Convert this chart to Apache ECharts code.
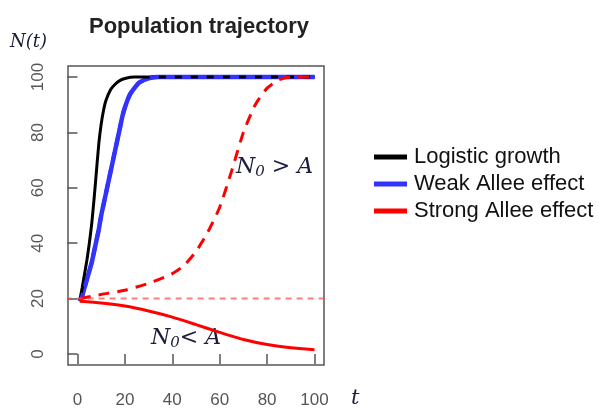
<!DOCTYPE html>
<html>
<head>
<meta charset="utf-8">
<script src="https://cdn.jsdelivr.net/npm/echarts@6/dist/echarts.min.js"></script>
<style>
  html, body { margin: 0; padding: 0; background: #fff; }
  #chart { width: 599px; height: 410px; }
</style>
</head>
<body>
<div id="chart"></div>
<script>
// values
var xTicks = [0, 20, 40, 60, 80, 100]
var yTicks = [0, 20, 40, 60, 80, 100]

var logisticT = [1, 2, 3, 4, 5, 6, 7, 8, 9, 10, 11, 12, 14, 16, 18, 20, 24, 30, 100]
var logisticN = [19.5, 24, 29, 34, 40, 47, 56, 66, 76, 83, 88, 91.5, 95.5, 97.5, 98.8, 99.5, 100, 100, 100]

var weakT = [1, 2, 3, 4, 5, 6, 7, 8, 9, 10, 11, 12, 13, 14, 15, 16, 17, 18, 19, 20, 22, 24, 26, 30, 34, 100]
var weakN = [19, 21, 24, 27, 30, 33, 37, 41, 45, 50, 54, 58, 62, 66, 70, 74, 78, 82, 86, 89, 93.5, 96, 98, 99.5, 100, 100]

var strongHighT = [1, 10, 20, 30, 40, 45, 50, 55, 60, 65, 70, 75, 80, 85, 90, 100]
var strongHighN = [20, 21.5, 23, 25.5, 29, 32, 37, 44, 53, 66, 80, 90, 96, 99, 100, 100]

var strongLowT = [1, 10, 20, 30, 40, 50, 60, 70, 80, 90, 100]
var strongLowN = [19, 18.4, 17.3, 15.5, 13.3, 10.6, 7.8, 5.2, 3.4, 2.2, 1.5]

var thresholdA = 20
var thresholdSpan = [-5, 109]

function pairs(ts, ns) {
  return ts.map(function (t, i) { return [t, ns[i]] })
}

var chart = echarts.init(document.getElementById('chart'))
var ink = '#1c1c3c'
var serif = '"DejaVu Serif", "Liberation Serif", serif'
var sans = '"Liberation Sans", Arial, sans-serif'

chart.setOption({
  animation: false,
  title: {
    text: 'Population trajectory',
    left: 194,
    textAlign: 'center',
    top: 11,
    textStyle: { fontFamily: sans, fontWeight: 'bold', fontSize: 22, color: '#222' }
  },
  legend: {
    orient: 'vertical',
    left: 369,
    top: 140,
    itemWidth: 33,
    itemHeight: 5,
    itemGap: 3,
    icon: 'rect',
    textStyle: { fontFamily: sans, fontSize: 22, color: '#111', lineHeight: 24, padding: [0, 0, 0, 2] },
    data: [
      { name: 'Logistic growth', itemStyle: { color: '#000' } },
      { name: 'Weak Allee effect', itemStyle: { color: '#3333ff' } },
      { name: 'Strong Allee effect', itemStyle: { color: '#ff0000' } }
    ]
  },
  grid: {
    left: 68, right: 275, top: 66, bottom: 45,
    show: true, borderColor: '#555', borderWidth: 1.5, backgroundColor: '#fff'
  },
  xAxis: {
    type: 'value', min: -4, max: 104,
    axisLine: { show: false },
    splitLine: { show: false },
    axisTick: { show: true, inside: false, length: 10, customValues: xTicks, lineStyle: { color: '#555', width: 1.5 } },
    axisLabel: { customValues: xTicks, margin: 27, fontFamily: sans, fontSize: 17, color: '#555' }
  },
  yAxis: {
    type: 'value', min: -4, max: 104,
    axisLine: { show: false },
    splitLine: { show: false },
    axisTick: { show: true, inside: false, length: 10, customValues: yTicks, lineStyle: { color: '#555', width: 1.5 } },
    axisLabel: { customValues: yTicks, rotate: 90, margin: 21, fontFamily: sans, fontSize: 17, color: '#555' }
  },
  series: [
    {
      name: 'Weak Allee effect', type: 'line', symbol: 'none', smooth: 0.2,
      lineStyle: { color: '#3333ff', width: 4.5 },
      data: pairs(weakT, weakN)
    },
    {
      name: 'Logistic growth', type: 'line', symbol: 'none', smooth: 0.2,
      lineStyle: { color: '#000', width: 3 },
      data: pairs(logisticT, logisticN)
    },
    {
      name: 'Weak Allee effect', type: 'line', symbol: 'none', smooth: 0.2,
      lineStyle: { color: '#3333ff', width: 4, type: [9, 7] },
      data: pairs(weakT, weakN)
    },
    {
      name: 'Strong Allee effect', type: 'line', symbol: 'none', smooth: 0.2,
      lineStyle: { color: '#ff0000', width: 3, type: [11, 8] },
      data: pairs(strongHighT, strongHighN)
    },
    {
      name: 'Strong Allee effect', type: 'line', symbol: 'none', smooth: 0.2,
      lineStyle: { color: '#ff0000', width: 3 },
      data: pairs(strongLowT, strongLowN)
    },
    {
      name: 'threshold', type: 'line', symbol: 'none', clip: false, silent: true,
      lineStyle: { color: 'rgba(255,70,70,0.7)', width: 2, type: [6, 5] },
      data: thresholdSpan.map(function (t) { return [t, thresholdA] })
    }
  ],
  graphic: [
    {
      type: 'text', left: 10, top: 33,
      style: { text: 'N(t)', font: 'italic 18px ' + serif, fill: ink }
    },
    {
      type: 'text', left: 351, top: 388,
      style: { text: 't', font: 'italic 21px ' + serif, fill: ink }
    },
    {
      type: 'text', left: 236, top: 156,
      style: {
        text: '{n|N}{s|0}{n| > A}',
        rich: {
          n: { font: 'italic 22px ' + serif, fill: ink },
          s: { font: 'italic 15px ' + serif, fill: ink, padding: [11, 0, 0, 0] }
        }
      }
    },
    {
      type: 'text', left: 151, top: 327,
      style: {
        text: '{n|N}{s|0}{n|< A}',
        rich: {
          n: { font: 'italic 22px ' + serif, fill: ink },
          s: { font: 'italic 15px ' + serif, fill: ink, padding: [11, 0, 0, 0] }
        }
      }
    }
  ]
})
</script>
</body>
</html>
